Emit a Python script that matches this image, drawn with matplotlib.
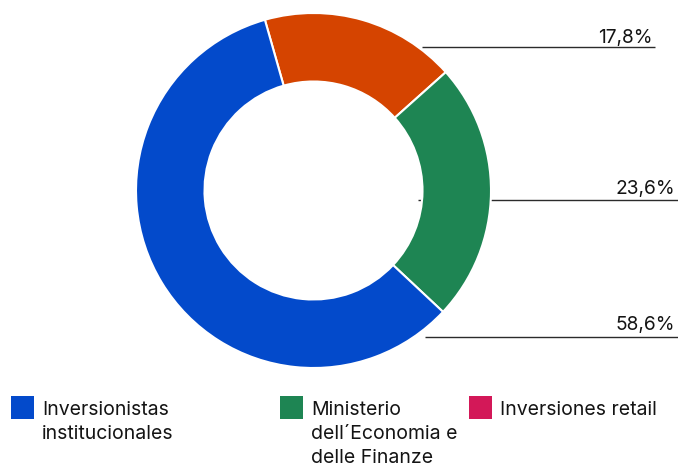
import matplotlib
matplotlib.use("Agg")
import matplotlib.pyplot as plt
from matplotlib.patches import Rectangle

# Shareholder structure (percent of capital)
categories = ["Inversiones retail",
              "Ministerio\ndell´Economia e\ndelle Finanze",
              "Inversionistas\ninstitucionales"]
shares = [17.8, 23.6, 58.6]
slice_colors = ["#D54400", "#1E8553", "#034ACB"]

legend_labels = ["Inversionistas\ninstitucionales",
                 "Ministerio\ndell´Economia e\ndelle Finanze",
                 "Inversiones retail"]
legend_colors = ["#034ACB", "#1E8553", "#D31858"]

W, H = 678, 466
plt.rcParams["font.family"] = ["Inter", "DejaVu Sans"]

fig = plt.figure(figsize=(W / 100, H / 100), dpi=100)
ax = fig.add_axes([0, 0, 1, 1])


def Y(y):
    # top-down pixel row -> axes coordinate
    return H - y


cx, cy, r_out, ring = 313.5, Y(190.5), 177.5, 68.5

# leader lines sit under the ring
leaders = [(422, 655, 47), (418, 678, 200), (425, 678, 337)]
label_pos = [(653, 43), (675, 194), (675, 330)]
for (x0, x1, yy), (tx, ty), v in zip(leaders, label_pos, shares):
    ax.plot([x0, x1], [Y(yy), Y(yy)], color="#2b2b2b", lw=1.0, zorder=1,
            solid_capstyle="butt")
    ax.text(tx, Y(ty), f"{v:.1f}%".replace(".", ","), ha="right",
            va="baseline", fontsize=13.8, color="#141414", zorder=3)

ax.pie(shares, colors=slice_colors, startangle=105.9, counterclock=False,
       radius=r_out, center=(cx, cy),
       wedgeprops=dict(width=ring, edgecolor="white", linewidth=1.5,
                       zorder=2))

# legend drawn as swatches + labels, one baseline per text line
legend_x = [11, 280, 469]
for lx, lab, col in zip(legend_x, legend_labels, legend_colors):
    ax.add_patch(Rectangle((lx, Y(419)), 23, 23, facecolor=col,
                           edgecolor="none", zorder=3))
    for i, line in enumerate(lab.split("\n")):
        ax.text(lx + 31, Y(415 + 24 * i), line, ha="left", va="baseline",
                fontsize=14, color="#141414", zorder=3)

ax.set_xlim(0, W)
ax.set_ylim(0, H)
ax.set_aspect("equal")
ax.axis("off")

fig.savefig("out.png", dpi=100)
